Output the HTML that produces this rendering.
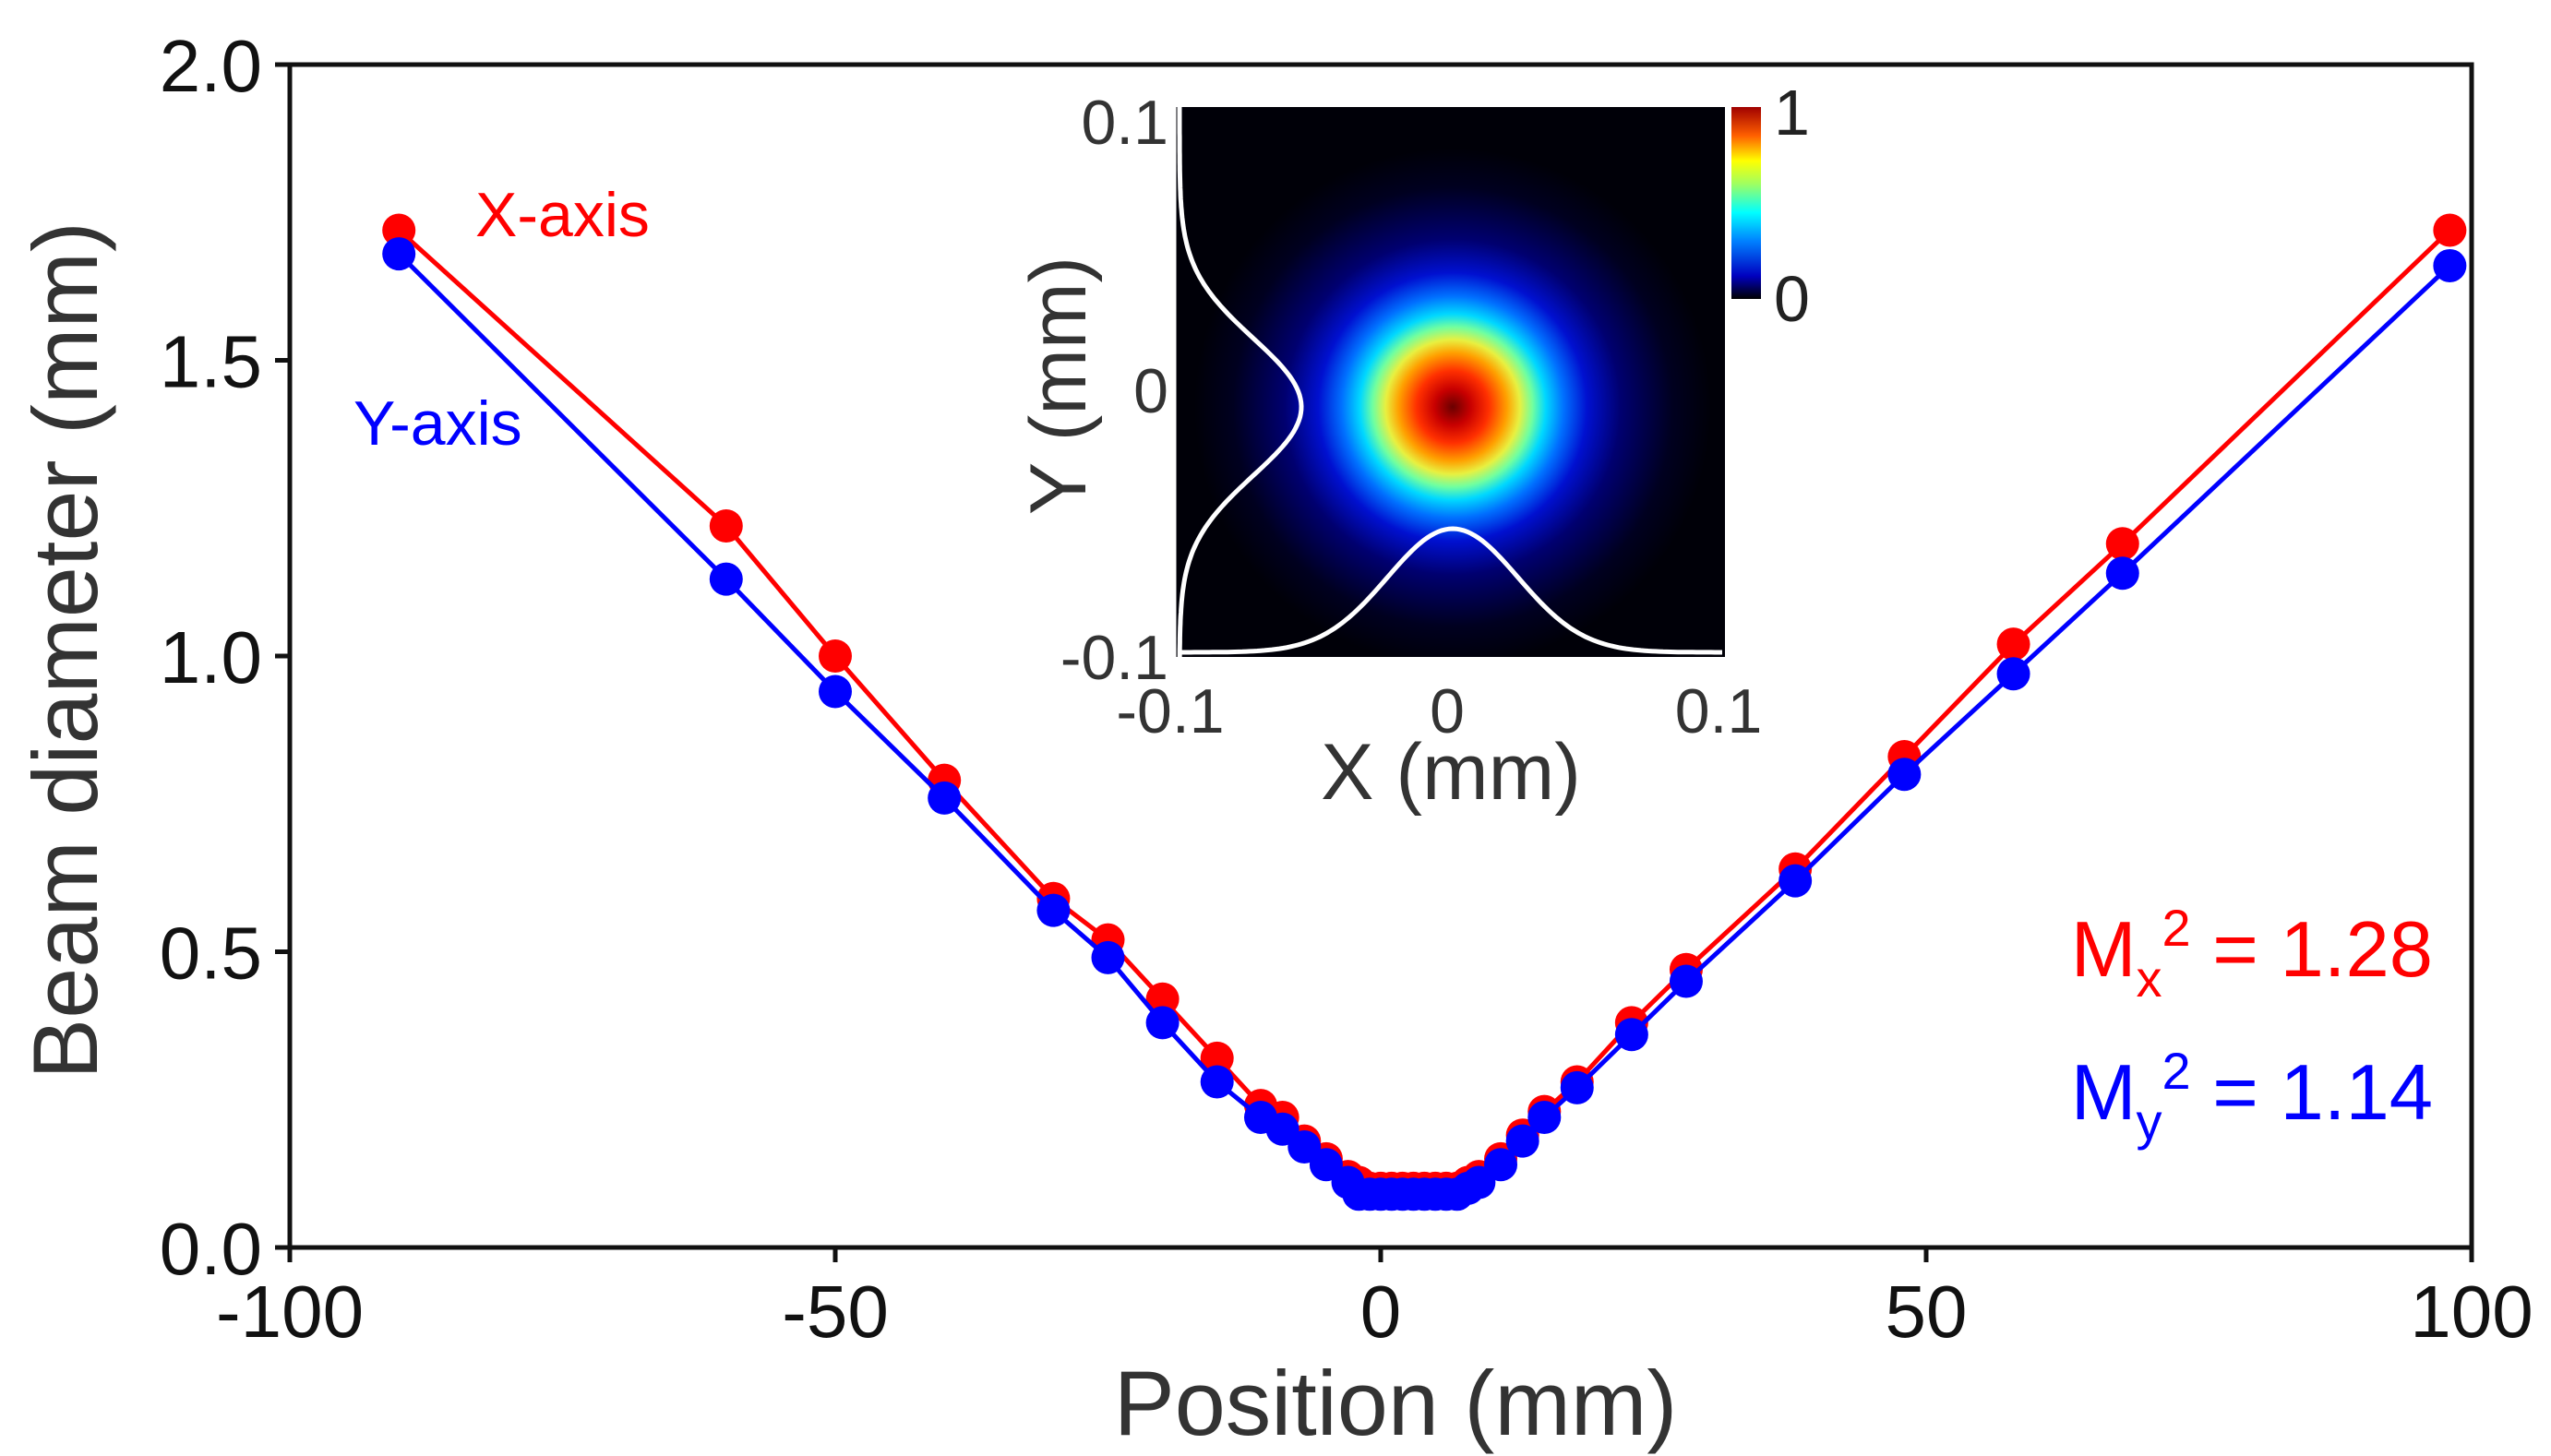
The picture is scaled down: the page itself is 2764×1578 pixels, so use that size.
<!DOCTYPE html>
<html><head><meta charset="utf-8"><style>
html,body{margin:0;padding:0;background:#fff;}
svg{display:block;font-family:"Liberation Sans",sans-serif;}
</style></head><body>
<svg id="chart" width="2764" height="1578" viewBox="0 0 2764 1578" xmlns="http://www.w3.org/2000/svg">
<defs>
<radialGradient id="beam" cx="1574" cy="441" r="280" gradientUnits="userSpaceOnUse">
<stop offset="0" stop-color="#6a0000"/>
<stop offset="0.07" stop-color="#c80000"/>
<stop offset="0.14" stop-color="#ff3000"/>
<stop offset="0.21" stop-color="#ffa000"/>
<stop offset="0.26" stop-color="#e8f040"/>
<stop offset="0.31" stop-color="#70ffa0"/>
<stop offset="0.36" stop-color="#00d8ff"/>
<stop offset="0.43" stop-color="#0070ff"/>
<stop offset="0.52" stop-color="#0010d0"/>
<stop offset="0.65" stop-color="#000070"/>
<stop offset="0.85" stop-color="#000020"/>
<stop offset="1" stop-color="#000008"/>
</radialGradient>
<linearGradient id="cbar" x1="0" y1="1" x2="0" y2="0">
<stop offset="0" stop-color="#000000"/>
<stop offset="0.12" stop-color="#0000c0"/>
<stop offset="0.3" stop-color="#0080ff"/>
<stop offset="0.45" stop-color="#00ffff"/>
<stop offset="0.6" stop-color="#a0ff60"/>
<stop offset="0.72" stop-color="#ffff00"/>
<stop offset="0.85" stop-color="#ff6000"/>
<stop offset="1" stop-color="#a00000"/>
</linearGradient>
</defs>
<g id="axes"></g>
<g id="series"></g>
<g id="inset">
<rect x="1273" y="116" width="596" height="596" fill="url(#beam)"/>
<path id="yprof" fill="none" stroke="#fff" stroke-width="5"/>
<path id="xprof" fill="none" stroke="#fff" stroke-width="5"/>
<line x1="1273" y1="116" x2="1273" y2="712" stroke="#fff" stroke-width="3"/>
<rect x="1876" y="116" width="32" height="208" fill="url(#cbar)"/>
<text x="1922" y="146" font-size="70" fill="#222">1</text>
<text x="1922" y="348" font-size="70" fill="#222">0</text>
<text x="1266" y="156" font-size="68" fill="#333" text-anchor="end">0.1</text>
<text x="1266" y="447" font-size="68" fill="#333" text-anchor="end">0</text>
<text x="1266" y="736" font-size="68" fill="#333" text-anchor="end">-0.1</text>
<text x="1268" y="794" font-size="68" fill="#333" text-anchor="middle">-0.1</text>
<text x="1568" y="794" font-size="68" fill="#333" text-anchor="middle">0</text>
<text x="1862" y="794" font-size="68" fill="#333" text-anchor="middle">0.1</text>
<text x="1572" y="866" font-size="86" fill="#333" text-anchor="middle">X (mm)</text>
<text transform="translate(1176,418) rotate(-90)" font-size="86" fill="#333" text-anchor="middle">Y (mm)</text>
</g>
<text x="515" y="256" font-size="68" fill="#ff0000">X-axis</text>
<text x="383" y="482" font-size="68" fill="#0000ff">Y-axis</text>
<text x="2636" y="1058" font-size="85" fill="#ff0000" text-anchor="end">M<tspan font-size="56" dy="22">x</tspan><tspan font-size="56" dy="-55">2</tspan><tspan dy="33"> = 1.28</tspan></text>
<text x="2636" y="1213" font-size="85" fill="#0000ff" text-anchor="end">M<tspan font-size="56" dy="22">y</tspan><tspan font-size="56" dy="-55">2</tspan><tspan dy="33"> = 1.14</tspan></text>
</svg>
<script>
const positions=[-90,-60,-50,-40,-30,-25,-20,-15,-11,-9,-7,-5,-3,-2,-1,0,1,2,3,4,5,6,7,8,9,11,13,15,18,23,28,38,48,58,68,98];
const diamX=[1.72,1.22,1.00,0.79,0.59,0.52,0.42,0.32,0.24,0.22,0.18,0.15,0.12,0.11,0.10,0.10,0.10,0.10,0.10,0.10,0.10,0.10,0.10,0.11,0.12,0.15,0.19,0.23,0.28,0.38,0.47,0.64,0.83,1.02,1.19,1.72];
const diamY=[1.68,1.13,0.94,0.76,0.57,0.49,0.38,0.28,0.22,0.20,0.17,0.14,0.11,0.09,0.09,0.09,0.09,0.09,0.09,0.09,0.09,0.09,0.09,0.10,0.11,0.14,0.18,0.22,0.27,0.36,0.45,0.62,0.80,0.97,1.14,1.66];
const xTicks=[-100,-50,0,50,100];
const yTicks=[0.0,0.5,1.0,1.5,2.0];
const NS="http://www.w3.org/2000/svg";
const L=314,R=2678,T=70,B=1352;
function sx(v){return L+(v+100)/200*(R-L);}
function sy(v){return B-v/2*(B-T);}
function mk(tag,attrs,parent,text){const e=document.createElementNS(NS,tag);for(const k in attrs)e.setAttribute(k,attrs[k]);if(text!==undefined)e.textContent=text;parent.appendChild(e);return e;}
const ax=document.getElementById('axes');
const frame=mk('rect',{x:L,y:T,width:R-L,height:B-T,fill:'none',stroke:'#111','stroke-width':5},ax);


xTicks.forEach(t=>{
 const ln=mk('line',{x1:sx(t),x2:sx(t),y1:B,y2:B+16,stroke:'#111','stroke-width':5},ax);
 
 
 const tx=mk('text',{x:sx(t),y:B+97,'font-size':80,'text-anchor':'middle',fill:'#111'},ax,String(t));
 
 
});
yTicks.forEach(t=>{
 const ln=mk('line',{x1:L-16,x2:L,y1:sy(t),y2:sy(t),stroke:'#111','stroke-width':5},ax);
 
 
 const tx=mk('text',{x:L-30,y:sy(t)+29,'font-size':80,'text-anchor':'end',fill:'#111'},ax,t.toFixed(1));
 
 
});
const xt=mk('text',{x:1512,y:1555,'font-size':99,'text-anchor':'middle',fill:'#333'},ax,'Position (mm)');


const yt=mk('text',{transform:'translate(105,705) rotate(-90)','font-size':99,'text-anchor':'middle',fill:'#333'},ax,'Beam diameter (mm)');


const sg=document.getElementById('series');
function drawSeries(vals,color,name){
 const pl=mk('polyline',{points:positions.map((p,i)=>sx(p)+','+sy(vals[i])).join(' '),fill:'none',stroke:color,'stroke-width':5},sg);
 
 
 positions.forEach((p,i)=>{
  const c=mk('circle',{cx:sx(p),cy:sy(vals[i]),r:18,fill:color},sg);
  
  
 });
}
drawSeries(diamX,'#ff0000','x-axis-series');
drawSeries(diamY,'#0000ff','y-axis-series');
let d='';
for(let y=116;y<=712;y+=4){const x=1278+132*Math.exp(-Math.pow((y-441)/105,2));d+=(d?'L':'M')+x.toFixed(1)+','+y;}
document.getElementById('yprof').setAttribute('d',d);
d='';
for(let x=1278;x<=1869;x+=4){const y=707-134*Math.exp(-Math.pow((x-1574)/100,2));d+=(d?'L':'M')+x+','+y.toFixed(1);}
document.getElementById('xprof').setAttribute('d',d);
</script>
</body></html>
